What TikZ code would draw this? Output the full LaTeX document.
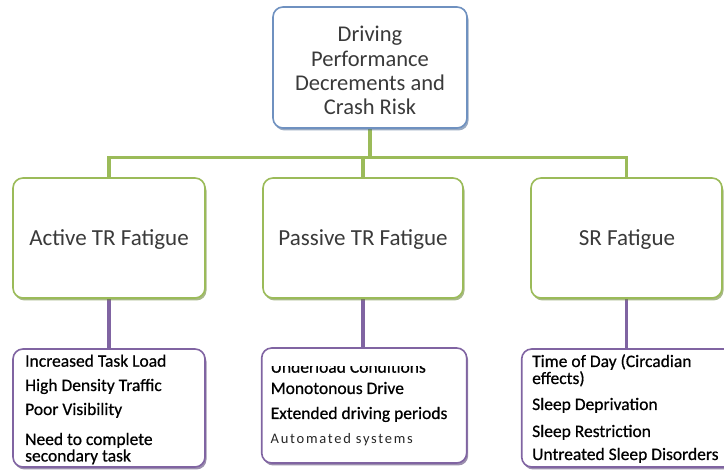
\documentclass[tikz,border=0pt]{standalone}
\usepackage{fontspec}
\setmainfont{Carlito}
\usetikzlibrary{shadows,backgrounds}
\definecolor{cgreen}{HTML}{9BBB59}
\definecolor{cgreend}{HTML}{6E8A38}
\definecolor{cblue}{HTML}{6F91C0}
\definecolor{cblued}{HTML}{46658F}
\definecolor{cpurple}{HTML}{8064A2}
\definecolor{cpurpled}{HTML}{5A4578}
\definecolor{ctext}{HTML}{3A3A3A}
\begin{document}
\begin{tikzpicture}[x=1pt,y=-1pt,
  card/.style={rectangle, rounded corners=10pt, line width=1.6pt, fill=white, inner sep=0pt},
  topcard/.style={card, draw=cblue, drop shadow={shadow xshift=1.5pt, shadow yshift=-2.5pt, fill=cblued, opacity=.55}},
  midcard/.style={card, draw=cgreen, drop shadow={shadow xshift=1.5pt, shadow yshift=-2.5pt, fill=cgreend, opacity=.6}},
  listcard/.style={card, draw=cpurple, drop shadow={shadow xshift=1.5pt, shadow yshift=-2.5pt, fill=cpurpled, opacity=.6}},
  gline/.style={draw=cgreen, line width=3.5pt},
  pline/.style={draw=cpurple, line width=3.5pt},
  toptxt/.style={font=\fontsize{22.5}{25}\selectfont, text=ctext, anchor=base, inner sep=0pt},
  midtxt/.style={font=\fontsize{23}{26}\selectfont, text=ctext, anchor=base, inner sep=0pt},
  listtxt/.style={font=\fontsize{17.5}{19}\selectfont\addfontfeature{FakeBold=0.6}, text=black, anchor=base west, inner sep=0pt},
  smalltxt/.style={font=\fontsize{14.5}{16}\selectfont\addfontfeature{LetterSpace=12}, text=black!85, anchor=base west, inner sep=0pt}
]
\useasboundingbox (0,0) rectangle (724,470);

% boxes
\node[topcard, minimum width=194pt, minimum height=121pt] (top) at (370,67.5) {};
\node[midcard, minimum width=192pt, minimum height=120pt] (act) at (109,238) {};
\node[midcard, minimum width=200pt, minimum height=120pt] (pas) at (363,238) {};
\node[midcard, minimum width=191pt, minimum height=120pt] (sr) at (626.5,238) {};
\node[listcard, minimum width=192pt, minimum height=118pt] (actl) at (109,408) {};
\node[listcard, minimum width=205pt, minimum height=115pt] (pasl) at (364.2,405.5) {};
\node[listcard, minimum width=214pt, minimum height=118pt] (srl) at (628.7,408) {};

% connectors
\coordinate (bar) at (0,157.5);
\begin{scope}[on background layer]
\draw[gline] (act.north) -- (act.north |- bar) -- (sr.north |- bar) -- (sr.north);
\draw[gline] (top.south) -- (top.south |- bar);
\draw[gline] (pas.north |- bar) -- (pas.north);
\draw[pline] (act.south) -- (actl.north -| act.south);
\draw[pline] (pas.south) -- (pasl.north -| pas.south);
\draw[pline] (sr.south) -- (srl.north -| sr.south);
\end{scope}

% top text
\node[toptxt] (t1) at (370,41.7) {Driving};
\node[toptxt] (t2) at (370,66.1) {Performance};
\node[toptxt] (t3) at (370,90.6) {Decrements and};
\node[toptxt] (t4) at (370,115) {Crash Risk};

% middle texts
\node[midtxt] (m1) at (109,246) {Active TR Fatigue};
\node[midtxt] (m2) at (363,246) {Passive TR Fatigue};
\node[midtxt] (m3) at (627,246) {SR Fatigue};

% active list
\node[listtxt] (a1) at (25,366.7) {Increased Task Load};
\node[listtxt] (a2) at (25,391) {High Density Traffic};
\node[listtxt] (a3) at (25,415) {Poor Visibility};
\node[listtxt] (a4) at (25,445) {Need to complete};
\node[listtxt] (a5) at (25,461.5) {secondary task};

% passive list
\begin{scope}
\clip (263,366.5) rectangle (466,380);
\node[listtxt] (b1) at (270.5,372.7) {Underload Conditions};
\end{scope}
\node[listtxt] (b2) at (270.5,394) {Monotonous Drive};
\node[listtxt] (b3) at (270.5,419) {Extended driving periods};
\node[smalltxt] (b4) at (270.5,444) {Automated systems};

% SR list
\node[listtxt] (c1) at (532,367) {Time of Day (Circadian};
\node[listtxt] (c2) at (532,384) {effects)};
\node[listtxt] (c3) at (532,410) {Sleep Deprivation};
\node[listtxt] (c4) at (532,437) {Sleep Restriction};
\node[listtxt] (c5) at (532,460) {Untreated Sleep Disorders};
\end{tikzpicture}
\end{document}
